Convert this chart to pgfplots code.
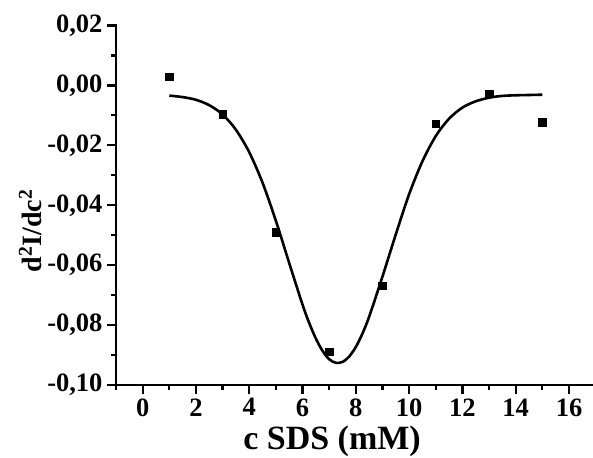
\documentclass[border=0pt]{standalone}
\usepackage{pgfplots}
\pgfplotsset{compat=1.18}
\usepackage{fontspec}
\setmainfont{Liberation Serif}
\begin{document}
\begin{tikzpicture}
\begin{axis}[
  scale only axis,
  width=477pt, height=361pt,
  anchor=south west, at={(0,0)},
  xmin=-1, xmax=16.9,
  ymin=-0.10, ymax=0.0205,
  axis lines*=left,
  axis line style={line width=2.2pt},
  every tick/.style={black, line width=2.2pt},
  tick align=outside,
  major tick length=9pt,
  minor tick length=4.5pt,
  xtick={0,2,...,16},
  minor xtick={-1,1,3,...,15},
  ytick={-0.10,-0.08,-0.06,-0.04,-0.02,0,0.02},
  yticklabels={{-0,10},{-0,08},{-0,06},{-0,04},{-0,02},{0,00},{0,02}},
  minor ytick={-0.09,-0.07,-0.05,-0.03,-0.01,0.01},
  /pgf/number format/assume math mode=true,
  tick label style={font=\fontsize{26.5}{28}\selectfont\bfseries},
  xticklabel style={yshift=-1pt},
  yticklabel style={xshift=-1pt},
  xlabel={c SDS (mM)},
  ylabel={d\textsuperscript{2}I/dc\textsuperscript{2}},
  xlabel style={font=\fontsize{34}{36}\selectfont\bfseries, at={(axis description cs:0.453,-0.155)}, anchor=center},
  ylabel style={font=\fontsize{28}{30}\selectfont\bfseries, at={(axis description cs:-0.18,0.427)}, anchor=center},
  clip=false,
]
\addplot[only marks, mark=square*, mark size=3.8pt, black] coordinates {
  (1,0.0029) (3,-0.0097) (5,-0.0489) (7,-0.0889) (9,-0.0669) (11,-0.0128) (13,-0.0028) (15,-0.0122)
};
\addplot[black, line width=2.6pt, smooth] coordinates {
  (1,-0.0034) (1.5,-0.0039) (2,-0.0048) (2.5,-0.0066) (3,-0.0097) (3.5,-0.0148)
  (4,-0.0223) (4.5,-0.0325) (5,-0.0452) (5.5,-0.0593) (6,-0.0732) (6.25,-0.0793)
  (6.5,-0.0845) (6.75,-0.0886) (7,-0.0914) (7.25,-0.0926) (7.5,-0.0923) (7.75,-0.0905)
  (8,-0.0873) (8.25,-0.0828) (8.5,-0.0772) (9,-0.0638)
  (9.5,-0.0497) (10,-0.0363) (10.5,-0.0253) (11,-0.0169) (11.5,-0.0111) (12,-0.0074)
  (12.5,-0.0053) (13,-0.0041) (13.5,-0.0035) (14,-0.0033) (14.5,-0.0032) (15,-0.0031)
};
\end{axis}
\pgfresetboundingbox
\path[use as bounding box] (-116pt,-72pt) rectangle (477pt,385pt);
\end{tikzpicture}
\end{document}
